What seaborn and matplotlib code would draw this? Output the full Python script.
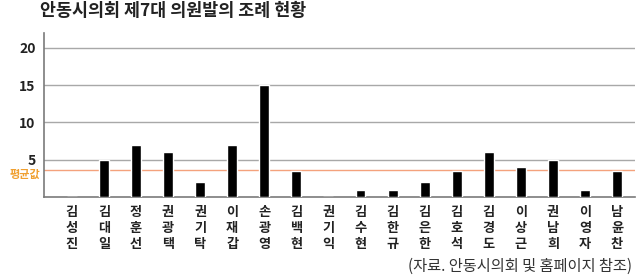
import matplotlib
matplotlib.use("Agg")
import matplotlib.pyplot as plt
import seaborn as sns
import pandas as pd

members = ["김성진", "김대일", "정훈선", "권광택", "권기탁", "이재갑", "손광영", "김백현", "권기익",
           "김수현", "김한규", "김은한", "김호석", "김경도", "이상근", "권남희", "이영자", "남윤찬"]
counts = [0, 5, 7, 6, 2, 7, 15, 3.5, 0, 1, 1, 2, 3.5, 6, 4, 5, 1, 3.5]
average = 3.6
yticks = [5, 10, 15, 20]
title = "안동시의회 제7대 의원발의 조례 현황"
avg_label = "평균값"
source = "(자료. 안동시의회 및 홈페이지 참조)"

sns.set_theme(style="white")
plt.rcParams['font.family'] = ['Noto Sans CJK KR', 'DejaVu Sans']

df = pd.DataFrame({"member": members, "count": counts})

fig = plt.figure(figsize=(6.4, 2.76), dpi=100)
ax = fig.add_axes([44/640, 1 - 197/276, (635-44)/640, (197-33)/276])

sns.barplot(data=df, x="member", y="count", order=members, color="black",
            width=0.31, saturation=1, ax=ax, zorder=3)

ax.set_xlim(-0.87, 17.56)
ax.set_ylim(0, 22)
ax.set_yticks(yticks)
ax.set_yticklabels([str(v) for v in yticks], fontsize=10, fontweight="bold", color="#222222")
for v in yticks:
    ax.axhline(v, color="#a8a8a8", lw=1.0, zorder=1)
ax.axhline(average, color="#f4a27c", lw=1.0, zorder=2)

ax.set_xticks(range(len(members)))
ax.set_xticklabels(["\n".join(m) for m in members], fontsize=9.5, fontweight="bold",
                   color="#222222", linespacing=1.15)
ax.tick_params(axis="both", length=0, pad=4)
ax.tick_params(axis="y", pad=6)
ax.tick_params(axis="x", pad=6)
ax.set_xlabel("")
ax.set_ylabel("")

for s in ["top", "right"]:
    ax.spines[s].set_visible(False)
for s in ["left", "bottom"]:
    ax.spines[s].set_color("#7a7a7a")
    ax.spines[s].set_linewidth(1.2)

fig.text(40/640, 1 - 11/276, title, fontsize=12.5, fontweight="bold", color="#222222",
         ha="left", va="center")
fig.text(40/640, 1 - 174.5/276, avg_label, fontsize=8, fontweight="bold", color="#f0a030",
         ha="right", va="center")
fig.text(632/640, 1 - 266/276, source, fontsize=11, color="#333333",
         ha="right", va="center")

fig.savefig("out.png", dpi=100)
